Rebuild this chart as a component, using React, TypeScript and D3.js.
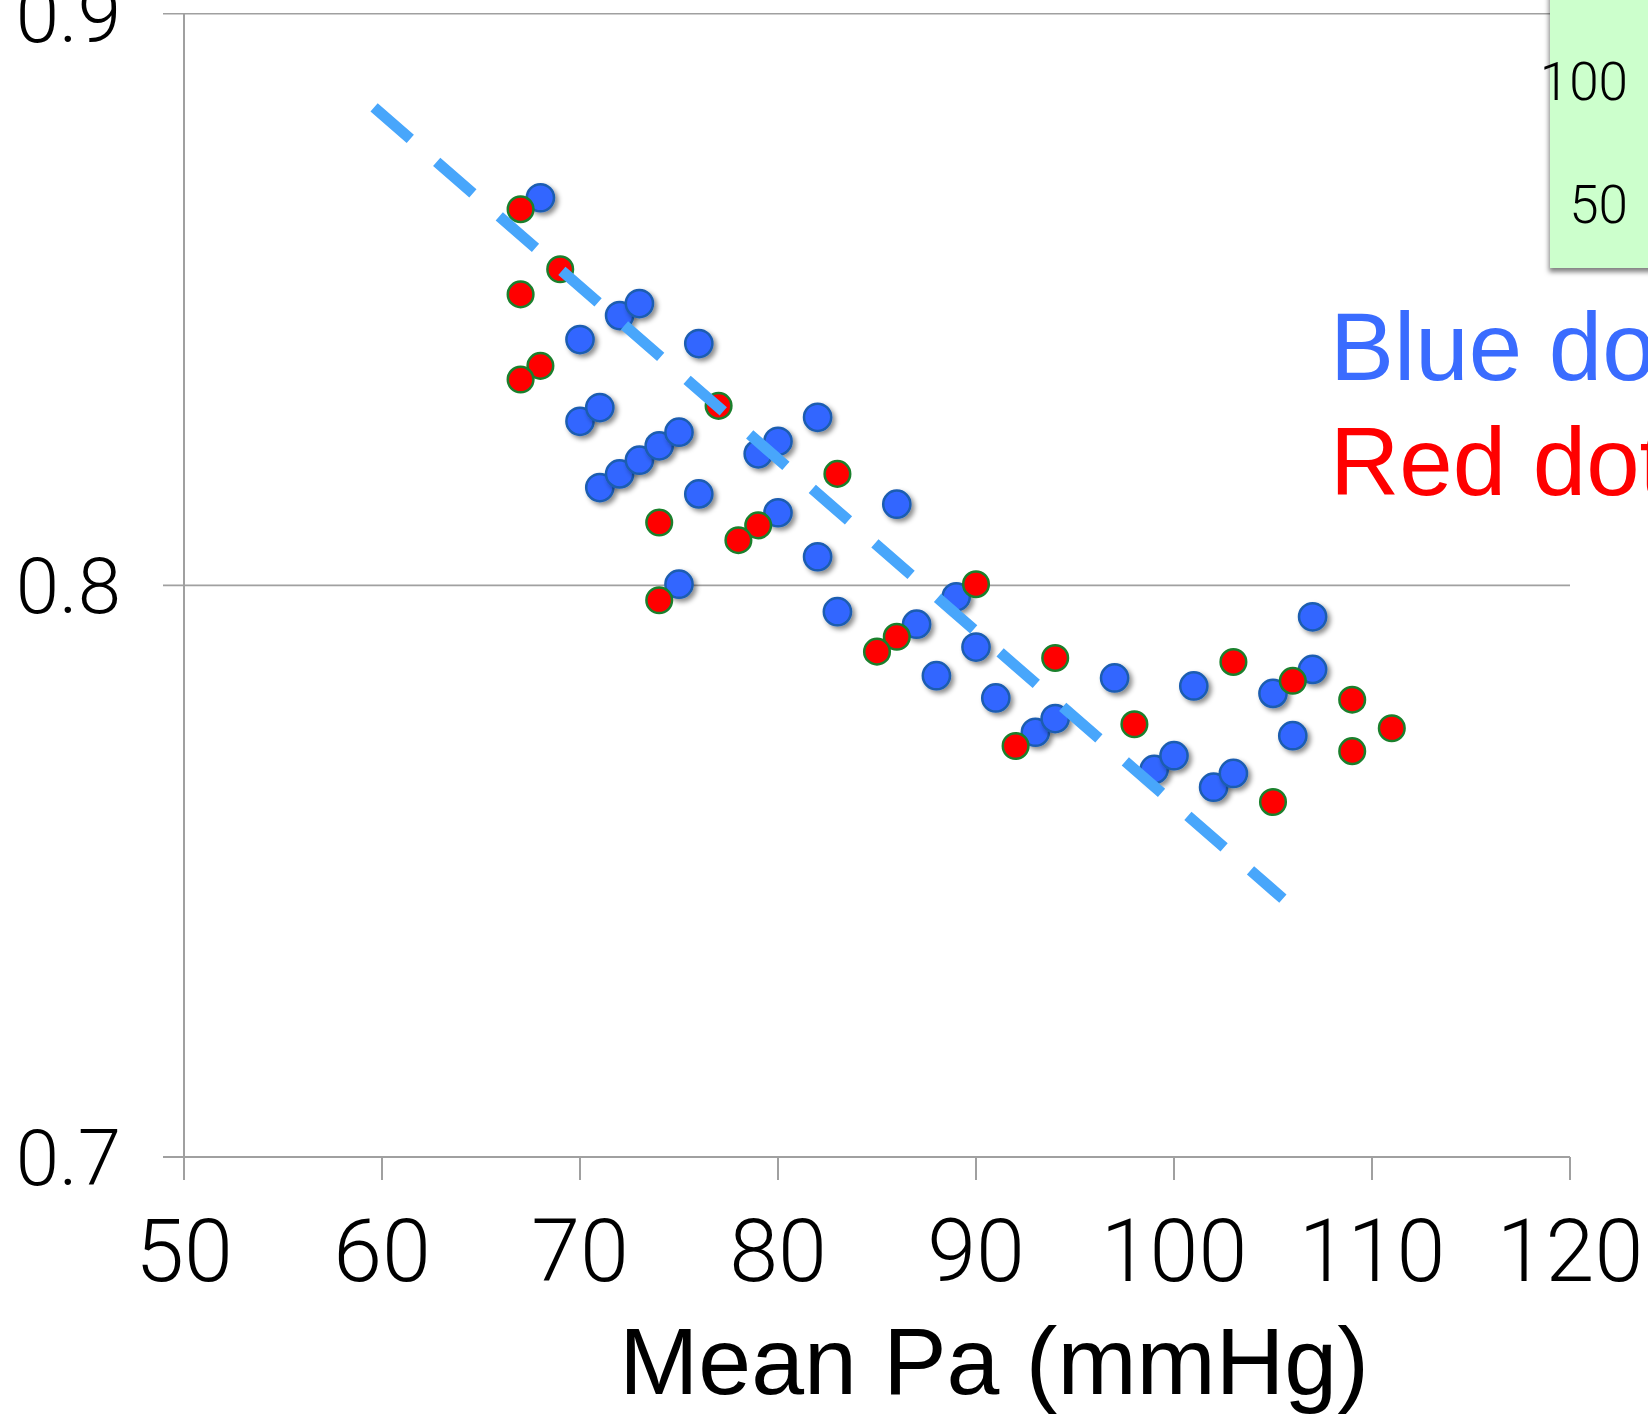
import { useRef, useEffect } from 'react'
import { select, scaleLinear, line, format } from 'd3'

// blue dots (mean Pa, ratio)
const blueX = [68, 72, 73, 70, 76, 70, 71, 82, 79, 80, 71, 72, 73, 74, 75, 76, 80, 86, 82, 75, 83, 89, 87, 90, 88, 91, 93, 94, 97, 99, 100, 101, 102, 103, 105, 106, 107, 107]
const blueY = [0.8678, 0.8472, 0.8493, 0.843, 0.8423, 0.8287, 0.8311, 0.8294, 0.823, 0.8252, 0.8171, 0.8195, 0.8219, 0.8244, 0.8268, 0.816, 0.8127, 0.8142, 0.805, 0.8002, 0.7954, 0.798, 0.7932, 0.7892, 0.7842, 0.7803, 0.7743, 0.7767, 0.7838, 0.7678, 0.7702, 0.7824, 0.7647, 0.7671, 0.7811, 0.7737, 0.7853, 0.7945]

// red dots
const redX = [67, 69, 67, 68, 67, 77, 83, 74, 79, 78, 74, 90, 86, 85, 94, 92, 98, 103, 106, 109, 111, 109, 105]
const redY = [0.8658, 0.8553, 0.8509, 0.8384, 0.836, 0.8314, 0.8195, 0.811, 0.8105, 0.8079, 0.7974, 0.8002, 0.791, 0.7884, 0.7873, 0.7719, 0.7757, 0.7866, 0.7833, 0.78, 0.775, 0.771, 0.7621]

// dashed trend line end points
const trendX = [59.6, 105.5]
const trendY = [0.8836, 0.7452]

const xTicks = [50, 60, 70, 80, 90, 100, 110, 120]
const yTicks = [0.7, 0.8, 0.9]
const insetTicks = [100, 50]

const xAxisLabel = 'Mean Pa (mmHg)'
const legendLines = [
  { text: 'Blue dots', color: '#3a6cff' },
  { text: 'Red dots', color: '#ff0000' },
]

const App = () => {
  const svgRef = useRef(null)

  function renderChart() {
    const svg = select(svgRef.current)
    svg.selectAll('*').remove()

    const lightFont = 'Roboto, "Liberation Sans", Arial, sans-serif'
    const regularFont = '"Liberation Sans", Arial, sans-serif'
    const axisColor = '#a0a0a0'

    const xScale = scaleLinear().domain([50, 120]).range([184, 1570])
    const yScale = scaleLinear().domain([0.7, 0.9]).range([1157, 13.7])

    const defs = svg.append('defs')
    defs
      .append('filter')
      .attr('id', 'dotShadow')
      .attr('x', '-50%')
      .attr('y', '-50%')
      .attr('width', '200%')
      .attr('height', '200%')
      .append('feDropShadow')
      .attr('dx', 3)
      .attr('dy', 3)
      .attr('stdDeviation', 2.5)
      .attr('flood-color', '#000')
      .attr('flood-opacity', 0.45)
    defs
      .append('filter')
      .attr('id', 'boxShadow')
      .attr('x', '-20%')
      .attr('y', '-20%')
      .attr('width', '140%')
      .attr('height', '140%')
      .append('feDropShadow')
      .attr('dx', -1)
      .attr('dy', 4)
      .attr('stdDeviation', 2.5)
      .attr('flood-color', '#000')
      .attr('flood-opacity', 0.5)

    // horizontal gridlines + y ticks
    yTicks.forEach((t) => {
      svg
        .append('line')
        .attr('x1', 163)
        .attr('x2', xScale(120))
        .attr('y1', yScale(t))
        .attr('y2', yScale(t))
        .attr('stroke', axisColor)
        .attr('stroke-width', t === 0.7 ? 2 : 1.6)

      svg
        .append('text')
        .text(format('.1f')(t))
        .attr('x', 121)
        .attr('y', yScale(t))
        .attr('dy', '0.36em')
        .attr('text-anchor', 'end')
        .attr('font-family', lightFont)
        .attr('font-weight', 300)
        .attr('font-size', 78)
        .attr('fill', '#000')
    })

    // y axis line
    svg
      .append('line')
      .attr('x1', xScale(50))
      .attr('x2', xScale(50))
      .attr('y1', yScale(0.9))
      .attr('y2', yScale(0.7) + 23)
      .attr('stroke', axisColor)
      .attr('stroke-width', 2)

    // x ticks
    xTicks.forEach((t) => {
      svg
        .append('line')
        .attr('x1', xScale(t))
        .attr('x2', xScale(t))
        .attr('y1', yScale(0.7))
        .attr('y2', yScale(0.7) + 23)
        .attr('stroke', axisColor)
        .attr('stroke-width', 2)

      svg
        .append('text')
        .text(t)
        .attr('x', xScale(t))
        .attr('y', 1281)
        .attr('text-anchor', 'middle')
        .attr('font-family', lightFont)
        .attr('font-weight', 300)
        .attr('font-size', 88)
        .attr('fill', '#000')
    })

    svg
      .append('text')
      .text(xAxisLabel)
      .attr('x', 994)
      .attr('y', 1394)
      .attr('text-anchor', 'middle')
      .attr('font-family', regularFont)
      .attr('font-size', 95)
      .attr('fill', '#000')

    // inset box (cut off at the top right)
    svg
      .append('rect')
      .attr('x', 1550)
      .attr('y', -20)
      .attr('width', 120)
      .attr('height', 288)
      .attr('fill', '#ccffcc')
      .attr('filter', 'url(#boxShadow)')

    insetTicks.forEach((t, i) => {
      svg
        .append('text')
        .text(t)
        .attr('x', 1628)
        .attr('y', 100 + i * 123)
        .attr('text-anchor', 'end')
        .attr('font-family', lightFont)
        .attr('font-weight', 300)
        .attr('font-size', 53)
        .attr('fill', '#000')
    })

    legendLines.forEach((l, i) => {
      svg
        .append('text')
        .text(l.text)
        .attr('x', 1330)
        .attr('y', 380 + i * 115)
        .attr('font-family', regularFont)
        .attr('font-size', 96)
        .attr('fill', l.color)
    })

    // dots
    svg
      .append('g')
      .selectAll('circle')
      .data(blueX.map((x, i) => [x, blueY[i]]))
      .join('circle')
      .attr('cx', (d) => xScale(d[0]))
      .attr('cy', (d) => yScale(d[1]))
      .attr('r', 13.6)
      .attr('fill', '#3366ff')
      .attr('stroke', '#1b5db0')
      .attr('stroke-width', 2.5)
      .attr('filter', 'url(#dotShadow)')

    svg
      .append('g')
      .selectAll('circle')
      .data(redX.map((x, i) => [x, redY[i]]))
      .join('circle')
      .attr('cx', (d) => xScale(d[0]))
      .attr('cy', (d) => yScale(d[1]))
      .attr('r', 12.8)
      .attr('fill', '#ff0000')
      .attr('stroke', '#1a802c')
      .attr('stroke-width', 2.5)

    const trendLine = line()
      .x((d) => xScale(d[0]))
      .y((d) => yScale(d[1]))

    svg
      .append('path')
      .attr('d', trendLine(trendX.map((x, i) => [x, trendY[i]])))
      .attr('fill', 'none')
      .attr('stroke', '#48a6fb')
      .attr('stroke-width', 11)
      .attr('stroke-dasharray', '48 35')
  }

  useEffect(() => {
    renderChart()
  }, [])

  return (
    <div style={{ position: 'absolute', left: 0, top: 0 }}>
      <svg
        width="1648"
        height="1415"
        ref={svgRef}
        style={{ display: 'block', background: '#fff' }}
      ></svg>
    </div>
  )
}

export default App
